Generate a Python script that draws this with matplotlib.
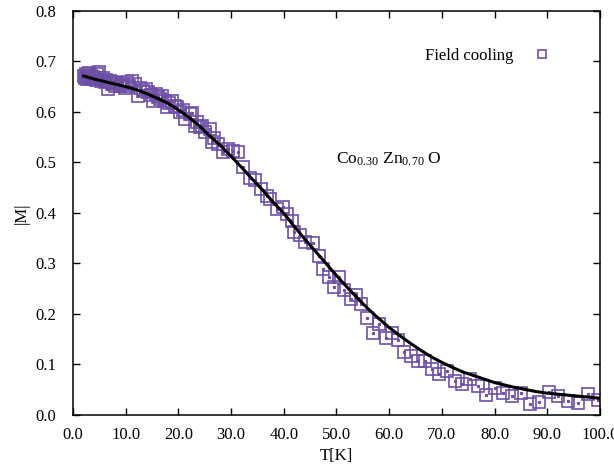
import matplotlib
matplotlib.use("Agg")
import matplotlib.pyplot as plt

# measured |M| (field cooling)
T_data = [2.0, 2.2, 2.4, 2.6, 2.8, 3.0, 3.2, 3.4, 3.6, 3.8, 4.0, 4.3, 4.6, 5.0, 5.3,
          5.7, 6.0, 6.3, 6.6, 7.0, 7.3, 7.6, 8.0, 8.4, 8.9, 9.3, 9.8, 10.2, 10.7, 11.2,
          11.8, 12.3, 12.8, 13.3, 13.8, 14.2, 14.7, 15.2, 15.7, 16.1, 16.5, 16.9, 17.4,
          17.8, 18.3, 18.8, 19.4, 19.8, 20.3, 20.8, 21.3, 22.2, 22.6, 23.1, 23.5, 24.1,
          24.5, 25.0, 26.0, 26.4, 26.8, 27.5, 28.5, 29.4, 30.4, 31.3, 32.3, 33.6, 34.5,
          35.7, 36.8, 37.4, 38.7, 39.8, 40.6, 41.6, 41.9, 43.1, 44.0, 45.5, 46.7, 47.4,
          48.6, 49.5, 50.5, 51.4, 52.8, 53.7, 54.6, 55.8, 56.9, 58.1, 59.4, 60.5, 61.7,
          62.8, 64.1, 65.5, 66.8, 68.1, 69.5, 70.9, 72.5, 73.8, 75.3, 76.9, 78.4, 80.1,
          81.6, 83.3, 85.0, 86.7, 88.4, 90.3, 92.0, 93.9, 95.8, 97.7, 99.6]
M_data = [0.672, 0.668, 0.674, 0.666, 0.671, 0.676, 0.668, 0.672, 0.665, 0.670, 0.667,
          0.664, 0.675, 0.679, 0.662, 0.668, 0.660, 0.664, 0.645, 0.662, 0.656, 0.659,
          0.652, 0.658, 0.651, 0.655, 0.648, 0.659, 0.652, 0.661, 0.655, 0.631, 0.648,
          0.641, 0.645, 0.639, 0.634, 0.621, 0.636, 0.629, 0.625, 0.631, 0.622, 0.609,
          0.617, 0.621, 0.612, 0.609, 0.600, 0.603, 0.585, 0.595, 0.598, 0.572, 0.579,
          0.570, 0.572, 0.560, 0.566, 0.540, 0.548, 0.536, 0.520, 0.526, 0.522, 0.520,
          0.490, 0.470, 0.465, 0.447, 0.433, 0.427, 0.407, 0.411, 0.397, 0.383, 0.363,
          0.357, 0.343, 0.341, 0.314, 0.288, 0.274, 0.254, 0.274, 0.248, 0.230, 0.238,
          0.220, 0.191, 0.163, 0.179, 0.153, 0.162, 0.149, 0.125, 0.117, 0.107, 0.107,
          0.091, 0.081, 0.087, 0.068, 0.062, 0.071, 0.058, 0.040, 0.054, 0.044, 0.038,
          0.044, 0.022, 0.026, 0.046, 0.038, 0.028, 0.024, 0.042, 0.030]

# fitted curve
T_fit = [2, 4, 6, 8, 10, 12, 14, 16, 18, 20, 22, 24, 26, 28, 30, 32, 34, 36, 38, 40,
         42, 44, 46, 48, 50, 52, 54, 56, 58, 60, 62, 64, 66, 68, 70, 72, 74, 76, 78, 80,
         82, 84, 86, 88, 90, 92, 94, 96, 98, 100]
M_fit = [0.671, 0.665, 0.660, 0.655, 0.650, 0.644, 0.636, 0.627, 0.617, 0.604, 0.589,
         0.572, 0.552, 0.533, 0.512, 0.490, 0.467, 0.445, 0.421, 0.399, 0.373, 0.348,
         0.324, 0.300, 0.276, 0.253, 0.231, 0.210, 0.191, 0.173, 0.157, 0.142, 0.128,
         0.115, 0.104, 0.094, 0.085, 0.078, 0.071, 0.064, 0.059, 0.054, 0.050, 0.046,
         0.043, 0.041, 0.039, 0.037, 0.035, 0.033]

plt.rcParams['font.family'] = ['Liberation Serif', 'DejaVu Serif']
plt.rcParams['mathtext.fontset'] = 'custom'
plt.rcParams['mathtext.rm'] = 'Liberation Serif'
plt.rcParams['mathtext.it'] = 'Liberation Serif:italic'

purple = '#6e4fa6'

fig = plt.figure(figsize=(6.14, 4.72), dpi=100)
ax = fig.add_axes([0.119, 0.121, 0.858, 0.856])

ax.plot(T_data, M_data, linestyle='none', marker='s', markersize=8,
        markerfacecolor='none', markeredgecolor=purple, markeredgewidth=1.2,
        label='Field cooling', zorder=2)
ax.plot(T_data, M_data, linestyle='none', marker='s', markersize=1.3,
        markerfacecolor=purple, markeredgecolor=purple, zorder=2)
ax.plot(T_fit, M_fit, color='black', lw=2.2, zorder=3)

ax.set_xlim(0, 100)
ax.set_ylim(0, 0.8)
ax.set_xticks([0, 10, 20, 30, 40, 50, 60, 70, 80, 90, 100])
ax.set_yticks([0.0, 0.1, 0.2, 0.3, 0.4, 0.5, 0.6, 0.7, 0.8])
ax.xaxis.set_major_formatter(matplotlib.ticker.FormatStrFormatter('%.1f'))
ax.yaxis.set_major_formatter(matplotlib.ticker.FormatStrFormatter('%.1f'))
ax.tick_params(direction='in', top=True, right=True, length=5, width=1,
               labelsize=12)
ax.tick_params(axis='x', pad=9)
ax.tick_params(axis='y', pad=12)
for s in ax.spines.values():
    s.set_linewidth(1.1)

ax.set_xlabel('T[K]', fontsize=12, labelpad=3)
ax.set_ylabel('|M|', fontsize=12, labelpad=4)

ax.text(0.5, 0.633, r'Co$_{0.30}$ Zn$_{0.70}$ O', transform=ax.transAxes,
        fontsize=12.5, va='center', ha='left')

ax.legend(loc='upper right', frameon=False, markerfirst=False, fontsize=12,
          bbox_to_anchor=(0.937, 0.945), handlelength=1.2, handletextpad=1.1,
          markerscale=0.8)

fig.savefig('out.png', dpi=100)
